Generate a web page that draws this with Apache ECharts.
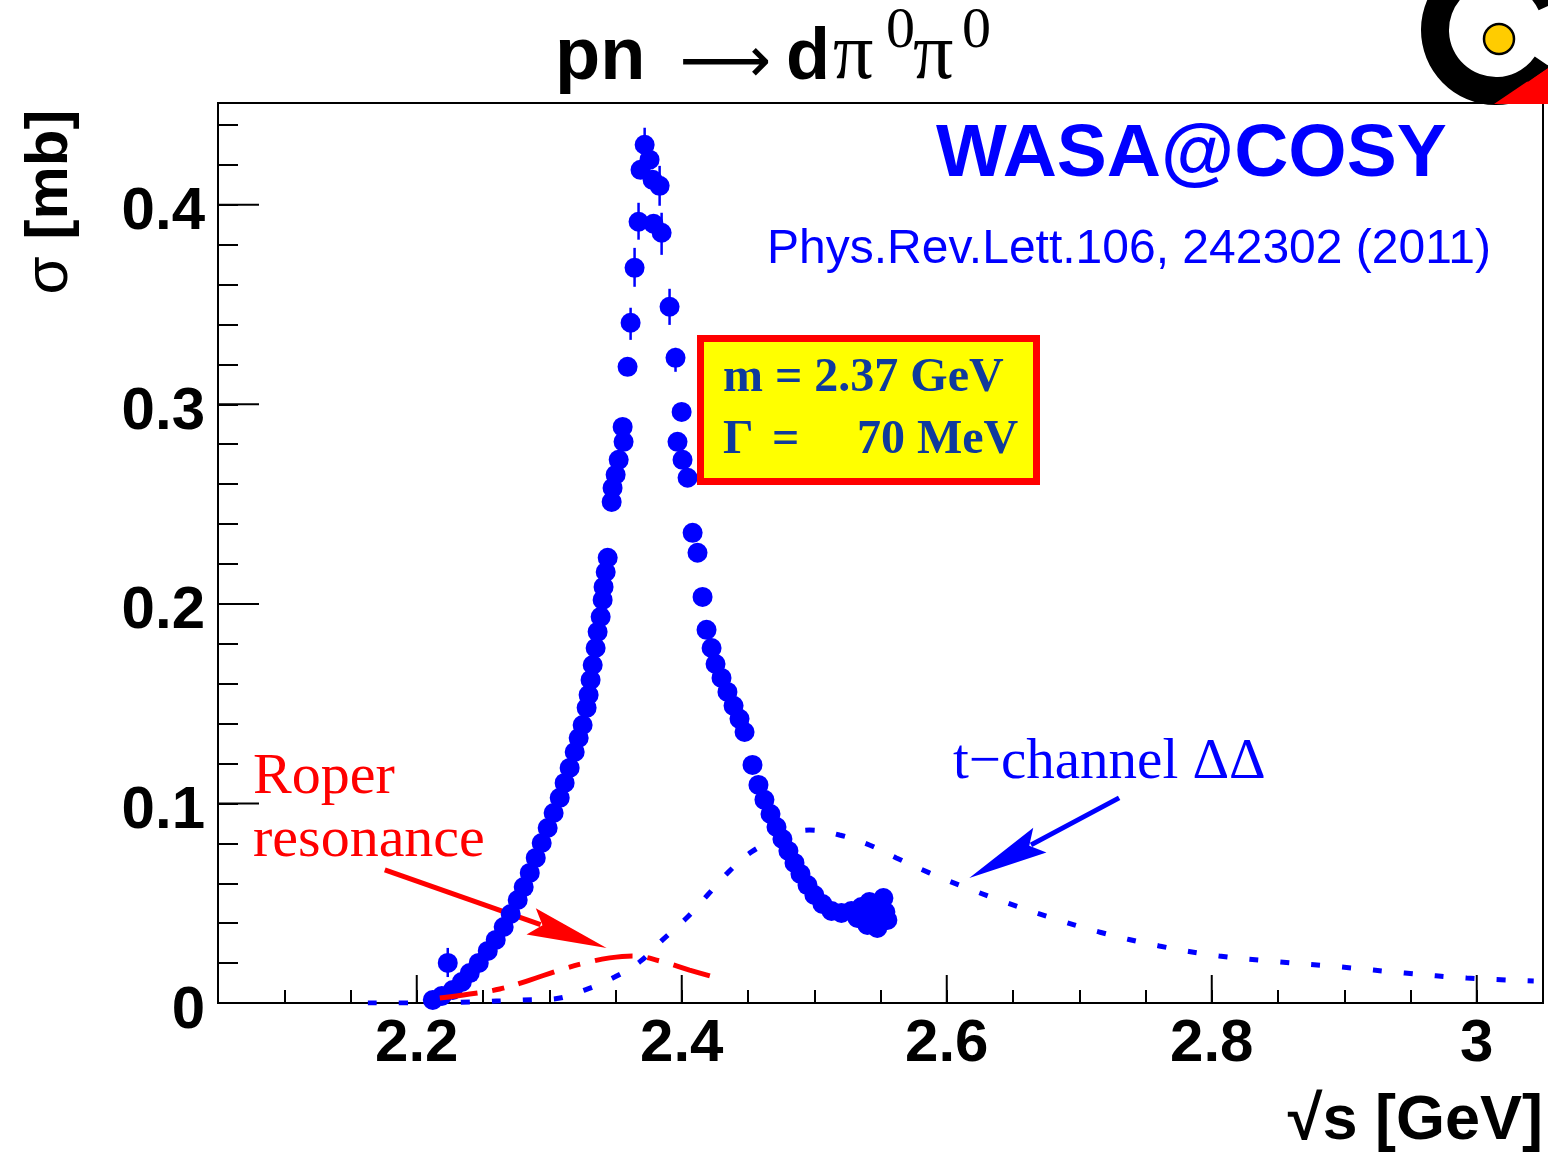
<!DOCTYPE html>
<html>
<head>
<meta charset="utf-8">
<title>pn → dπ0π0 cross section</title>
<script src="https://cdn.jsdelivr.net/npm/echarts@6/dist/echarts.min.js"></script>
<style>
  html, body { margin: 0; padding: 0; background: #fff; }
  #chart { width: 1548px; height: 1158px; }
</style>
</head>
<body>
<div id="chart"></div>
<script>
// Labelled (major) ticks on both axes
const xMajorTicks = [2.2, 2.4, 2.6, 2.8, 3];
const yMajorTicks = [0, 0.1, 0.2, 0.3, 0.4];

// WASA@COSY data points: sqrt(s) [GeV] and sigma [mb]
const dataSqrtS = [
  2.2121, 2.2189, 2.2234, 2.2272, 2.2340, 2.2400, 2.2468, 2.2536, 2.2596, 2.2656,
  2.2709, 2.2762, 2.2807, 2.2853, 2.2898, 2.2943, 2.2988, 2.3033, 2.3079, 2.3116,
  2.3154, 2.3192, 2.3222, 2.3252, 2.3282, 2.3297, 2.3312, 2.3328, 2.3350, 2.3365,
  2.3388, 2.3403, 2.3410, 2.3426, 2.3441, 2.3471, 2.3478, 2.3501, 2.3524, 2.3561,
  2.3554, 2.3591, 2.3614, 2.3644, 2.3674, 2.3689, 2.3720,
  2.3757, 2.3780, 2.3833, 2.3787, 2.3848, 2.3908, 2.3953, 2.3999, 2.3968, 2.4006,
  2.4044, 2.4082, 2.4119, 2.4157, 2.4187, 2.4225, 2.4255, 2.4300, 2.4345, 2.4391,
  2.4436, 2.4474, 2.4534, 2.4579, 2.4624, 2.4670, 2.4715, 2.4760, 2.4805, 2.4851,
  2.4896, 2.4949, 2.5001, 2.5062, 2.5130, 2.5205, 2.5280, 2.5356, 2.5416, 2.5492,
  2.5537, 2.5461, 2.5386, 2.5326, 2.5522, 2.5476, 2.5552, 2.5401, 2.5431, 2.5506
];
const dataSigma = [
  0.0015, 0.0035, 0.0201, 0.0065, 0.0105, 0.0150, 0.0201, 0.0261, 0.0316, 0.0381,
  0.0446, 0.0516, 0.0581, 0.0652, 0.0727, 0.0802, 0.0877, 0.0952, 0.1028, 0.1103,
  0.1178, 0.1258, 0.1328, 0.1393, 0.1479, 0.1544, 0.1619, 0.1694, 0.1779, 0.1860,
  0.1935, 0.2020, 0.2085, 0.2160, 0.2231, 0.2511, 0.2581, 0.2647, 0.2722, 0.2812,
  0.2887, 0.3188, 0.3409, 0.3684, 0.3915, 0.4175, 0.4301,
  0.4226, 0.4125, 0.4095, 0.3905, 0.3860, 0.3489, 0.3233, 0.2962, 0.2812, 0.2722,
  0.2632, 0.2356, 0.2256, 0.2035, 0.1870, 0.1779, 0.1699, 0.1629, 0.1559, 0.1489,
  0.1424, 0.1358, 0.1193, 0.1093, 0.1018, 0.0947, 0.0882, 0.0822, 0.0762, 0.0702,
  0.0647, 0.0591, 0.0541, 0.0496, 0.0461, 0.0451, 0.0461, 0.0481, 0.0506, 0.0496,
  0.0456, 0.0406, 0.0431, 0.0426, 0.0526, 0.0376, 0.0416, 0.0391, 0.0461, 0.0441
];

// Error bars that reach beyond the markers
const errSqrtS = [2.2234, 2.3614, 2.3644, 2.3674, 2.3720, 2.3833, 2.3848, 2.3908, 2.3953];
const errLow   = [0.0130, 0.3323, 0.3589, 0.3825, 0.4216, 0.3995, 0.3749, 0.3398, 0.3163];
const errHigh  = [0.0276, 0.3484, 0.3784, 0.4010, 0.4386, 0.4195, 0.3960, 0.3579, 0.3283];

// Conventional t-channel ΔΔ excitation
const tChanSqrtS = [
  2.1631, 2.2023, 2.2400, 2.2800, 2.3026, 2.3267, 2.3493, 2.3682, 2.3855, 2.4036,
  2.4195, 2.4346, 2.4526, 2.4738, 2.4964, 2.5190, 2.5416, 2.5620, 2.5869, 2.6095,
  2.6396, 2.6773, 2.7150, 2.7603, 2.8055, 2.8508, 2.8983, 2.9458, 2.9925, 3.0430
];
const tChanSigma = [
  0.0000, 0.0000, 0.0005, 0.0015, 0.0020, 0.0065, 0.0130, 0.0206, 0.0316, 0.0426,
  0.0541, 0.0652, 0.0757, 0.0827, 0.0867, 0.0842, 0.0792, 0.0727, 0.0652, 0.0591,
  0.0516, 0.0431, 0.0356, 0.0286, 0.0236, 0.0206, 0.0180, 0.0150, 0.0125, 0.0110
];

// Roper resonance excitation
const roperSqrtS = [2.2174, 2.2400, 2.2626, 2.2853, 2.3079, 2.3267, 2.3456, 2.3629, 2.3833, 2.4059, 2.4300];
const roperSigma = [0.0025, 0.0045, 0.0070, 0.0115, 0.0165, 0.0200, 0.0226, 0.0236, 0.0211, 0.0165, 0.0120];

// Pointer arrows [x from, y from, x to, y to] in axis units
const roperArrow = [2.1759, 0.0667, 2.3433, 0.0276];
const tChanArrow = [2.7301, 0.1028, 2.6170, 0.0627];

const SANS = '"Liberation Sans", Arial, Helvetica, sans-serif';
const SERIF = '"Liberation Serif", "Times New Roman", serif';
const BLUE = '#0000ff';
const RED = '#ff0000';
const NAVY = '#0f3a9c';
const X_MIN = 2.05, X_MAX = 3.05, Y_MIN = 0, Y_MAX = 0.451;

function isMajor(v, list) {
  return list.some(t => Math.abs(t - v) < 1e-6);
}

function arrowItem(color) {
  return function (params, api) {
    const p1 = api.coord([api.value(0), api.value(1)]);
    const p2 = api.coord([api.value(2), api.value(3)]);
    const dx = p2[0] - p1[0], dy = p2[1] - p1[1];
    const len = Math.sqrt(dx * dx + dy * dy);
    const ux = dx / len, uy = dy / len;
    const headLen = 80, headHalf = 14;
    const bx = p2[0] - ux * headLen, by = p2[1] - uy * headLen;
    return {
      type: 'group',
      children: [
        { type: 'line', shape: { x1: p1[0], y1: p1[1], x2: bx + ux * 10, y2: by + uy * 10 },
          style: { stroke: color, lineWidth: 5 } },
        { type: 'polygon', shape: { points: [
            [p2[0], p2[1]],
            [bx - uy * headHalf, by + ux * headHalf],
            [bx + ux * 12, by + uy * 12],
            [bx + uy * headHalf, by - ux * headHalf]
          ] }, style: { fill: color } }
      ]
    };
  };
}

const chart = echarts.init(document.getElementById('chart'), null, { renderer: 'canvas' });

const option = {
  animation: false,
  backgroundColor: '#ffffff',
  grid: {
    left: 218, right: 5, top: 103, bottom: 155,
    show: true, borderColor: '#000', borderWidth: 2, backgroundColor: 'transparent'
  },
  xAxis: {
    type: 'value', min: X_MIN, max: X_MAX, interval: 0.05,
    axisLine: { show: true, onZero: false, lineStyle: { color: '#000', width: 2 } },
    axisTick: { show: true, inside: true, length: 13, lineStyle: { color: '#000', width: 2 } },
    splitLine: { show: false },
    axisLabel: {
      show: true, margin: 11, color: '#000', fontFamily: SANS, fontWeight: 'bold', fontSize: 60,
      showMinLabel: true, showMaxLabel: true,
      formatter: v => isMajor(v, xMajorTicks) ? String(+v.toFixed(1)) : ''
    }
  },
  yAxis: {
    type: 'value', min: Y_MIN, max: Y_MAX, interval: 0.02,
    axisLine: { show: true, onZero: false, lineStyle: { color: '#000', width: 2 } },
    axisTick: { show: true, inside: true, length: 20, lineStyle: { color: '#000', width: 2 } },
    splitLine: { show: false },
    axisLabel: {
      show: true, margin: 13, color: '#000', fontFamily: SANS, fontWeight: 'bold', fontSize: 60,
      verticalAlign: 'top', lineHeight: 16,
      showMinLabel: true, showMaxLabel: false,
      formatter: v => isMajor(v, yMajorTicks) ? String(+v.toFixed(1)) : ''
    }
  },
  series: [
    {
      // long ticks at the labelled values of the x axis
      type: 'custom', silent: true, z: 5,
      data: xMajorTicks.map(v => [v, 0]),
      renderItem: (params, api) => {
        const p = api.coord([api.value(0), Y_MIN]);
        return { type: 'line', shape: { x1: p[0], y1: p[1], x2: p[0], y2: p[1] - 28 },
                 style: { stroke: '#000', lineWidth: 2 } };
      }
    },
    {
      // long ticks at the labelled values of the y axis
      type: 'custom', silent: true, z: 5,
      data: yMajorTicks.map(v => [X_MIN, v]),
      renderItem: (params, api) => {
        const p = api.coord([X_MIN, api.value(1)]);
        return { type: 'line', shape: { x1: p[0], y1: p[1], x2: p[0] + 41, y2: p[1] },
                 style: { stroke: '#000', lineWidth: 2 } };
      }
    },
    {
      name: 't-channel ΔΔ', type: 'line', smooth: 0.4, showSymbol: false, silent: true, z: 2,
      data: tChanSqrtS.map((x, i) => [x, tChanSigma[i]]),
      lineStyle: { color: BLUE, width: 5, type: [9, 22], cap: 'butt' }
    },
    {
      name: 'Roper arrow', type: 'custom', silent: true, z: 2,
      encode: { x: [0, 2], y: [1, 3] },
      data: [roperArrow],
      renderItem: arrowItem(RED)
    },
    {
      name: 't-channel arrow', type: 'custom', silent: true, z: 2,
      encode: { x: [0, 2], y: [1, 3] },
      data: [tChanArrow],
      renderItem: arrowItem(BLUE)
    },
    {
      name: 'error bars', type: 'custom', silent: true, z: 3,
      encode: { x: 0, y: [1, 2] },
      data: errSqrtS.map((x, i) => [x, errLow[i], errHigh[i]]),
      renderItem: (params, api) => {
        const lo = api.coord([api.value(0), api.value(1)]);
        const hi = api.coord([api.value(0), api.value(2)]);
        return { type: 'line', shape: { x1: lo[0], y1: lo[1], x2: hi[0], y2: hi[1] },
                 style: { stroke: BLUE, lineWidth: 2.5 } };
      }
    },
    {
      name: 'WASA@COSY', type: 'scatter', silent: true, z: 3,
      symbol: 'circle', symbolSize: 20,
      data: dataSqrtS.map((x, i) => [x, dataSigma[i]]),
      itemStyle: { color: BLUE, opacity: 1 }
    },
    {
      name: 'Roper resonance', type: 'line', smooth: 0.4, showSymbol: false, silent: true, z: 4,
      data: roperSqrtS.map((x, i) => [x, roperSigma[i]]),
      lineStyle: { color: RED, width: 5, type: [38, 15, 12, 15], cap: 'butt' }
    }
  ],
  graphic: [
    // title: pn → dπ0π0
    { type: 'text', x: 555, y: 59, z: 100, style: { text: 'pn', font: 'bold 74px ' + SANS, fill: '#000', align: 'left', verticalAlign: 'middle' } },
    { type: 'text', x: 725, y: 65, z: 100, style: { text: '⟶', font: '64px "DejaVu Sans"', fill: '#000', align: 'center', verticalAlign: 'middle' } },
    { type: 'text', x: 786, y: 59, z: 100, style: { text: 'd', font: 'bold 72px ' + SANS, fill: '#000', align: 'left', verticalAlign: 'middle' } },
    { type: 'text', x: 833, y: 57, z: 100, style: { text: 'π', font: '80px ' + SERIF, fill: '#000', align: 'left', verticalAlign: 'middle' } },
    { type: 'text', x: 886, y: 32, z: 100, style: { text: '0', font: '58px ' + SERIF, fill: '#000', align: 'left', verticalAlign: 'middle' } },
    { type: 'text', x: 913, y: 57, z: 100, style: { text: 'π', font: '80px ' + SERIF, fill: '#000', align: 'left', verticalAlign: 'middle' } },
    { type: 'text', x: 962, y: 32, z: 100, style: { text: '0', font: '58px ' + SERIF, fill: '#000', align: 'left', verticalAlign: 'middle' } },

    // axis titles
    { type: 'text', x: 50, y: 202, rotation: Math.PI / 2, z: 100,
      style: { text: '{s|σ} [mb]', font: 'bold 60px ' + SANS, fill: '#000', align: 'center', verticalAlign: 'middle',
               rich: { s: { fontFamily: SANS, fontWeight: 'normal', fontSize: 62, fill: '#000' } } } },
    { type: 'text', x: 1543, y: 1122, z: 100,
      style: { text: '√s [GeV]', font: 'bold 63px ' + SANS, fill: '#000', align: 'right', verticalAlign: 'middle' } },

    // experiment and reference
    { type: 'text', x: 936, y: 155, z: 100,
      style: { text: 'WASA@COSY', font: 'bold 75px ' + SANS, fill: BLUE, align: 'left', verticalAlign: 'middle' } },
    { type: 'text', x: 767, y: 250, z: 100,
      style: { text: 'Phys.Rev.Lett.106, 242302 (2011)', font: '48px ' + SANS, fill: BLUE, align: 'left', verticalAlign: 'middle' } },

    // resonance parameters box
    { type: 'rect', z: 100, shape: { x: 700.5, y: 338.5, width: 336, height: 143 },
      style: { fill: '#ffff00', stroke: RED, lineWidth: 7 } },
    { type: 'text', x: 723, y: 379, z: 101,
      style: { text: 'm = 2.37 GeV', font: 'bold 48px ' + SERIF, fill: NAVY, align: 'left', verticalAlign: 'middle' } },
    { type: 'text', x: 723, y: 441, z: 101,
      style: { text: 'Γ', font: 'bold 48px ' + SERIF, fill: NAVY, align: 'left', verticalAlign: 'middle' } },
    { type: 'text', x: 772, y: 441, z: 101,
      style: { text: '=', font: 'bold 48px ' + SERIF, fill: NAVY, align: 'left', verticalAlign: 'middle' } },
    { type: 'text', x: 857, y: 441, z: 101,
      style: { text: '70 MeV', font: 'bold 48px ' + SERIF, fill: NAVY, align: 'left', verticalAlign: 'middle' } },

    // curve annotations
    { type: 'text', x: 253, y: 778, z: 100,
      style: { text: 'Roper', font: '58px ' + SERIF, fill: RED, align: 'left', verticalAlign: 'middle' } },
    { type: 'text', x: 253, y: 841, z: 100,
      style: { text: 'resonance', font: '58px ' + SERIF, fill: RED, align: 'left', verticalAlign: 'middle' } },
    { type: 'text', x: 953, y: 763, z: 100,
      style: { text: 't−channel ΔΔ', font: '57px ' + SERIF, fill: BLUE, align: 'left', verticalAlign: 'middle' } },

    // COSY emblem in the corner
    { type: 'sector', z: 90, shape: { cx: 1496, cy: 30, r: 75, r0: 47, startAngle: 0.6, endAngle: 5.85, clockwise: true },
      style: { fill: '#000' } },
    { type: 'polygon', z: 91, shape: { points: [[1494, 104], [1528, 81], [1548, 68], [1548, 104]] },
      style: { fill: RED } },
    { type: 'polyline', z: 92, shape: { points: [[1470, 80], [1528, 80], [1548, 66]] },
      style: { stroke: '#000', lineWidth: 3, fill: null } },
    { type: 'circle', z: 92, shape: { cx: 1499, cy: 39, r: 15 },
      style: { fill: '#ffcc00', stroke: '#000', lineWidth: 2.5 } }
  ]
};

chart.setOption(option);
</script>
</body>
</html>
